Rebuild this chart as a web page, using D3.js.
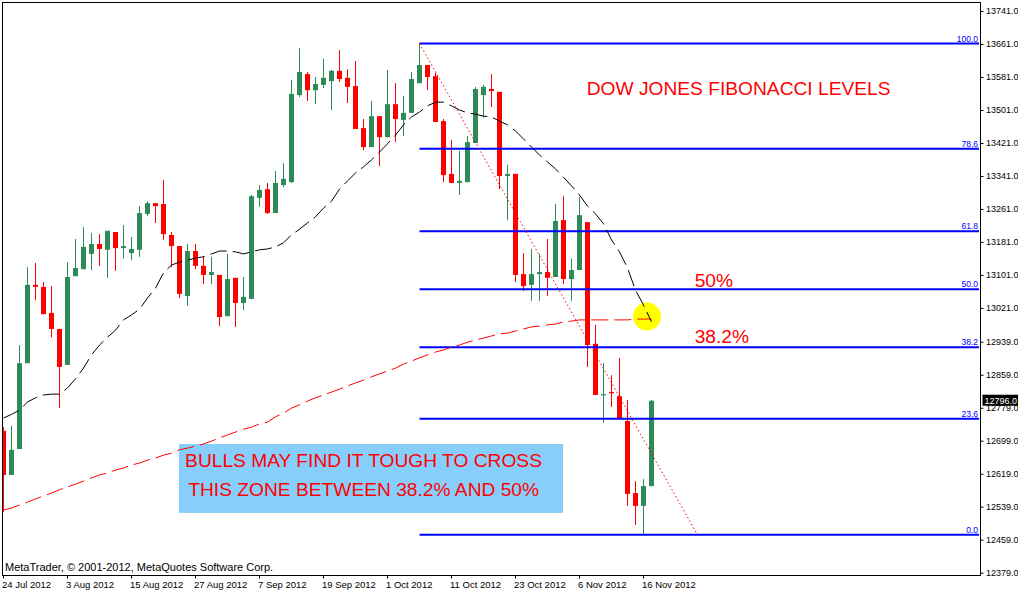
<!DOCTYPE html>
<html>
<head>
<meta charset="utf-8">
<script src="https://cdn.jsdelivr.net/npm/d3@7/dist/d3.min.js"></script>
<style>
  html, body { margin: 0; padding: 0; background: #ffffff; }
  svg { display: block; }
  text { font-family: "Liberation Sans", Arial, sans-serif; }
</style>
</head>
<body>
<svg id="chart" width="1018" height="592"></svg>
<script>
// ---------- DATA ----------
const dateLabels = ["24 Jul 2012","3 Aug 2012","15 Aug 2012","27 Aug 2012","7 Sep 2012","19 Sep 2012","1 Oct 2012","11 Oct 2012","23 Oct 2012","6 Nov 2012","16 Nov 2012"];
const dateTickBars = [0,8,16,24,32,40,48,56,64,72,80];

const opens = [12723,12616,12679,12887,13077,13072,13009,12970,12883,13098,
  13115,13152,13176,13162,13205,13166,13154,13162,13249,13275,
  13273,13198,13171,13050,13159,13123,13101,13101,13001,13094,
  13033,13043,13288,13309,13251,13319,13326,13537,13588,13549,
  13562,13571,13596,13579,13559,13457,13411,13486,13435,13515,
  13477,13494,13566,13610,13583,13474,13346,13324,13326,13421,
  13537,13552,13545,13341,13346,13103,13077,13103,13108,13096,
  13234,13091,13113,13229,12934,12810,12817,12807,12747,12572,
  12541,12589];
const highs = [12732,12735,12931,13120,13130,13084,13074,12970,13132,13188,
  13217,13203,13200,13208,13205,13222,13193,13268,13280,13275,
  13331,13205,13171,13176,13176,13147,13145,13101,13152,13094,
  13096,13295,13319,13324,13353,13372,13574,13651,13593,13581,
  13625,13598,13646,13600,13620,13479,13523,13486,13598,13566,
  13535,13593,13662,13610,13591,13479,13428,13402,13438,13557,
  13562,13588,13545,13368,13346,13154,13164,13152,13188,13273,
  13292,13140,13290,13229,12980,12887,12858,12900,12798,12601,
  12606,12798];
const lows = [12526,12616,12679,12887,13040,13006,12950,12778,12883,13098,
  13115,13113,13123,13094,13111,13140,13137,13145,13244,13227,
  13186,13120,13045,13026,13115,13079,13079,12977,13001,12975,
  13016,13043,13266,13249,13251,13314,13324,13532,13523,13515,
  13554,13501,13569,13518,13455,13404,13411,13365,13435,13423,
  13438,13494,13566,13549,13472,13326,13324,13295,13326,13421,
  13482,13508,13309,13234,13084,13062,13038,13038,13050,13096,
  13079,13038,13113,12878,12810,12742,12781,12754,12541,12495,
  12471,12589];
const closes = [12616,12677,12887,13077,13072,13006,12970,12878,13096,13118,
  13169,13176,13164,13208,13166,13171,13164,13251,13275,13268,
  13200,13171,13055,13159,13123,13101,13108,12999,13091,13033,
  13048,13292,13307,13251,13324,13334,13540,13593,13549,13564,
  13579,13596,13576,13557,13455,13411,13486,13435,13515,13479,
  13494,13576,13610,13581,13472,13343,13324,13329,13423,13552,
  13557,13547,13341,13346,13101,13074,13103,13108,13094,13232,
  13091,13113,13246,12931,12810,12812,12815,12754,12570,12541,
  12589,12796];

// moving averages as drawn on the chart
const maFast = [12754,12763,12773,12793,12803,12810,12812,12812,12827,12849,
  12875,12907,12931,12950,12967,12992,13004,13018,13045,13069,
  13106,13125,13132,13137,13142,13145,13152,13159,13159,13157,
  13152,13157,13162,13164,13169,13179,13198,13212,13227,13242,
  13263,13280,13309,13329,13348,13363,13380,13399,13419,13440,
  13465,13484,13496,13511,13520,13520,13511,13501,13494,13491,
  13486,13484,13474,13465,13450,13431,13411,13392,13375,13358,
  13338,13317,13295,13268,13249,13225,13186,13157,13118,13064,
  13028,12987];
const maSlow = [12531,12536,12543,12550,12558,12565,12572,12580,12587,12594,
  12601,12609,12616,12621,12628,12633,12640,12645,12652,12657,
  12664,12669,12677,12681,12686,12691,12698,12706,12713,12720,
  12727,12732,12740,12744,12757,12766,12778,12786,12795,12803,
  12810,12817,12824,12832,12839,12846,12854,12861,12868,12875,
  12885,12892,12900,12907,12914,12919,12926,12931,12938,12943,
  12948,12953,12958,12960,12965,12970,12975,12977,12980,12982,
  12987,12989,12992,12992,12992,12992,12992,12992,12992,12994,
  12994,12994];

// Fibonacci retracement
const fibHigh = 13662, fibLow = 12471, fibStartBar = 52;
const fibLevels = [0, 23.6, 38.2, 50, 61.8, 78.6, 100];
const fibLabels = ["0.0","23.6","38.2","50.0","61.8","78.6","100.0"];

// red dotted trend line (bar, price)
const trendBars = [52, 86.75];
const trendPrices = [13662, 12471];

const yTickValues = [13741,13661,13581,13501,13421,13341,13261,13181,13101,13021,12939,12859,12779,12699,12619,12539,12459,12379];
const lastPrice = 12796;

// ---------- DRAWING ----------
const svg = d3.select("#chart");
const L = 2, R = 980, T = 2, B = 575;

const x = d3.scaleLinear().domain([0, 122]).range([3.5, 979.5]);
const y = d3.scaleLinear().domain([12379, 13741]).range([572.7, 11]);

svg.append("rect").attr("x",0).attr("y",0).attr("width",1018).attr("height",592).attr("fill","#fff");

svg.append("defs").append("clipPath").attr("id","plotClip")
  .append("rect").attr("x",L+0.5).attr("y",T+0.5).attr("width",R-L-1).attr("height",B-T-1);

const plot = svg.append("g").attr("clip-path","url(#plotClip)");

// yellow highlight circle
plot.append("circle")
  .attr("cx", x(80.44)).attr("cy", y(13000)).attr("r", 14)
  .attr("fill", "#ffff00");

// light blue note box
plot.append("rect")
  .attr("x", x(21.94)).attr("y", y(12691))
  .attr("width", x(69.94) - x(21.94)).attr("height", y(12524) - y(12691))
  .attr("fill", "#87cefa");

// candles
const bars = d3.range(opens.length);
const green = "#2e8b57", red = "#ff0000";
const cg = plot.append("g");
bars.forEach(i => {
  const up = closes[i] >= opens[i];
  const col = up ? green : red;
  cg.append("rect")
    .attr("x", x(i) - 0.5).attr("width", 1)
    .attr("y", y(highs[i])).attr("height", Math.max(1, y(lows[i]) - y(highs[i])))
    .attr("fill", col);
  const top = y(Math.max(opens[i], closes[i]));
  const bot = y(Math.min(opens[i], closes[i]));
  cg.append("rect")
    .attr("x", x(i) - 2.5).attr("width", 5)
    .attr("y", top).attr("height", Math.max(1.2, bot - top))
    .attr("fill", col);
});

// fibonacci lines
fibLevels.forEach((lv, k) => {
  const price = fibLow + (fibHigh - fibLow) * lv / 100;
  const yy = y(price);
  plot.append("line")
    .attr("x1", x(fibStartBar)).attr("x2", 979)
    .attr("y1", yy).attr("y2", yy)
    .attr("stroke", "#0000ff").attr("stroke-width", 2);
  svg.append("text")
    .attr("x", 978).attr("y", yy - 2)
    .attr("text-anchor", "end")
    .attr("font-size", "8.5px")
    .attr("fill", "#0000ff")
    .text(fibLabels[k]);
});

// moving averages
const lineGen = arr => d3.line().x((d,i) => x(i)).y(d => y(d))(arr);
plot.append("path").attr("d", lineGen(maSlow))
  .attr("fill","none").attr("stroke", "#ff0000").attr("stroke-width", 1)
  .attr("stroke-dasharray", "17,6");
plot.append("path").attr("d", lineGen(maFast))
  .attr("fill","none").attr("stroke", "#000000").attr("stroke-width", 1)
  .attr("stroke-dasharray", "17,6");

// trend line (dotted)
plot.append("line")
  .attr("x1", x(trendBars[0])).attr("y1", y(trendPrices[0]))
  .attr("x2", x(trendBars[1])).attr("y2", y(trendPrices[1]))
  .attr("stroke", "#ff0000").attr("stroke-width", 1)
  .attr("stroke-dasharray", "1.5,2.5");

// annotations
const ann = svg.append("g").attr("fill", "#ff0000");
ann.append("text").attr("x", x(72.9)).attr("y", y(13537))
  .attr("font-size", "19.2px").text("DOW JONES FIBONACCI LEVELS");
ann.append("text").attr("x", x(86.4)).attr("y", y(13072))
  .attr("font-size", "19.2px").text("50%");
ann.append("text").attr("x", x(86.4)).attr("y", y(12936))
  .attr("font-size", "19.2px").text("38.2%");
ann.append("text").attr("x", x(22.7)).attr("y", y(12635))
  .attr("font-size", "19.2px").text("BULLS MAY FIND IT TOUGH TO CROSS");
ann.append("text").attr("x", x(23.1)).attr("y", y(12565))
  .attr("font-size", "19.2px").text("THIS ZONE BETWEEN 38.2% AND 50%");

// frame
svg.append("rect").attr("x", L + 0.5).attr("y", T + 0.5)
  .attr("width", R - L).attr("height", B - T)
  .attr("fill", "none").attr("stroke", "#000").attr("stroke-width", 1);

// right axis
const yAxis = d3.axisRight(y).tickValues(yTickValues).tickSize(3).tickPadding(2.5)
  .tickFormat(d => d.toFixed(1));
const ya = svg.append("g").attr("transform", `translate(${R + 0.5},0)`).call(yAxis);
ya.select(".domain").remove();
ya.selectAll("text").attr("font-size", "9px").attr("font-family", "Liberation Sans, Arial, sans-serif").attr("fill", "#000");
ya.selectAll("line").attr("stroke", "#000");

// current price tag
svg.append("rect").attr("x", 982.5).attr("y", y(lastPrice) - 6).attr("width", 35.5).attr("height", 11).attr("fill", "#000");
svg.append("text").attr("x", 984.5).attr("y", y(lastPrice)).attr("dy", "0.35em")
  .attr("font-size", "9px").attr("fill", "#fff").text(lastPrice.toFixed(1));

// bottom axis
const xAxis = d3.axisBottom(x).tickValues(dateTickBars).tickSize(3).tickPadding(3)
  .tickFormat((d, i) => dateLabels[i]);
const xa = svg.append("g").attr("transform", `translate(-0.5,${B + 0.5})`).call(xAxis);
xa.select(".domain").remove();
xa.selectAll("text").attr("text-anchor", "start").attr("x", -1.5)
  .attr("font-size", "9.5px").attr("font-family", "Liberation Sans, Arial, sans-serif").attr("fill", "#000");
xa.selectAll("line").attr("stroke", "#000");

// copyright
svg.append("text").attr("x", 5).attr("y", 571).attr("font-size", "11px").attr("fill", "#000")
  .text("MetaTrader, © 2001-2012, MetaQuotes Software Corp.");
</script>
</body>
</html>
